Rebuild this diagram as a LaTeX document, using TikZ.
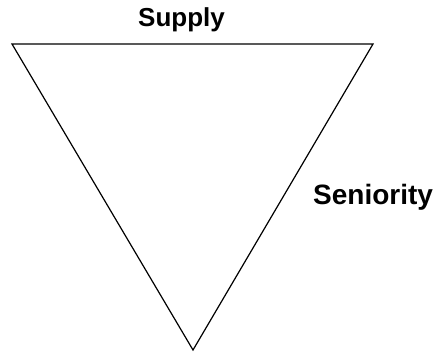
\documentclass[tikz,border=0pt]{standalone}
\usepackage{fontspec}
\setmainfont{Liberation Sans}
\begin{document}
\begin{tikzpicture}[x=1pt,y=1pt,
  lbl/.style={inner sep=0pt,font=\bfseries}]
\useasboundingbox (0,0) rectangle (437,353);
\coordinate (tl) at (12,309);
\coordinate (tr) at (373,309);
\coordinate (bt) at (193,3);
\draw[line width=1.2pt,line join=miter] (tl) -- (tr) -- (bt) -- cycle;
\node[lbl,anchor=base,font=\bfseries\fontsize{26}{30}\selectfont] (supply) at (181.5,326) {Supply};
\node[lbl,anchor=base west,font=\bfseries\fontsize{28}{33}\selectfont] (seniority) at (313,148) {Seniority};
\end{tikzpicture}
\end{document}
